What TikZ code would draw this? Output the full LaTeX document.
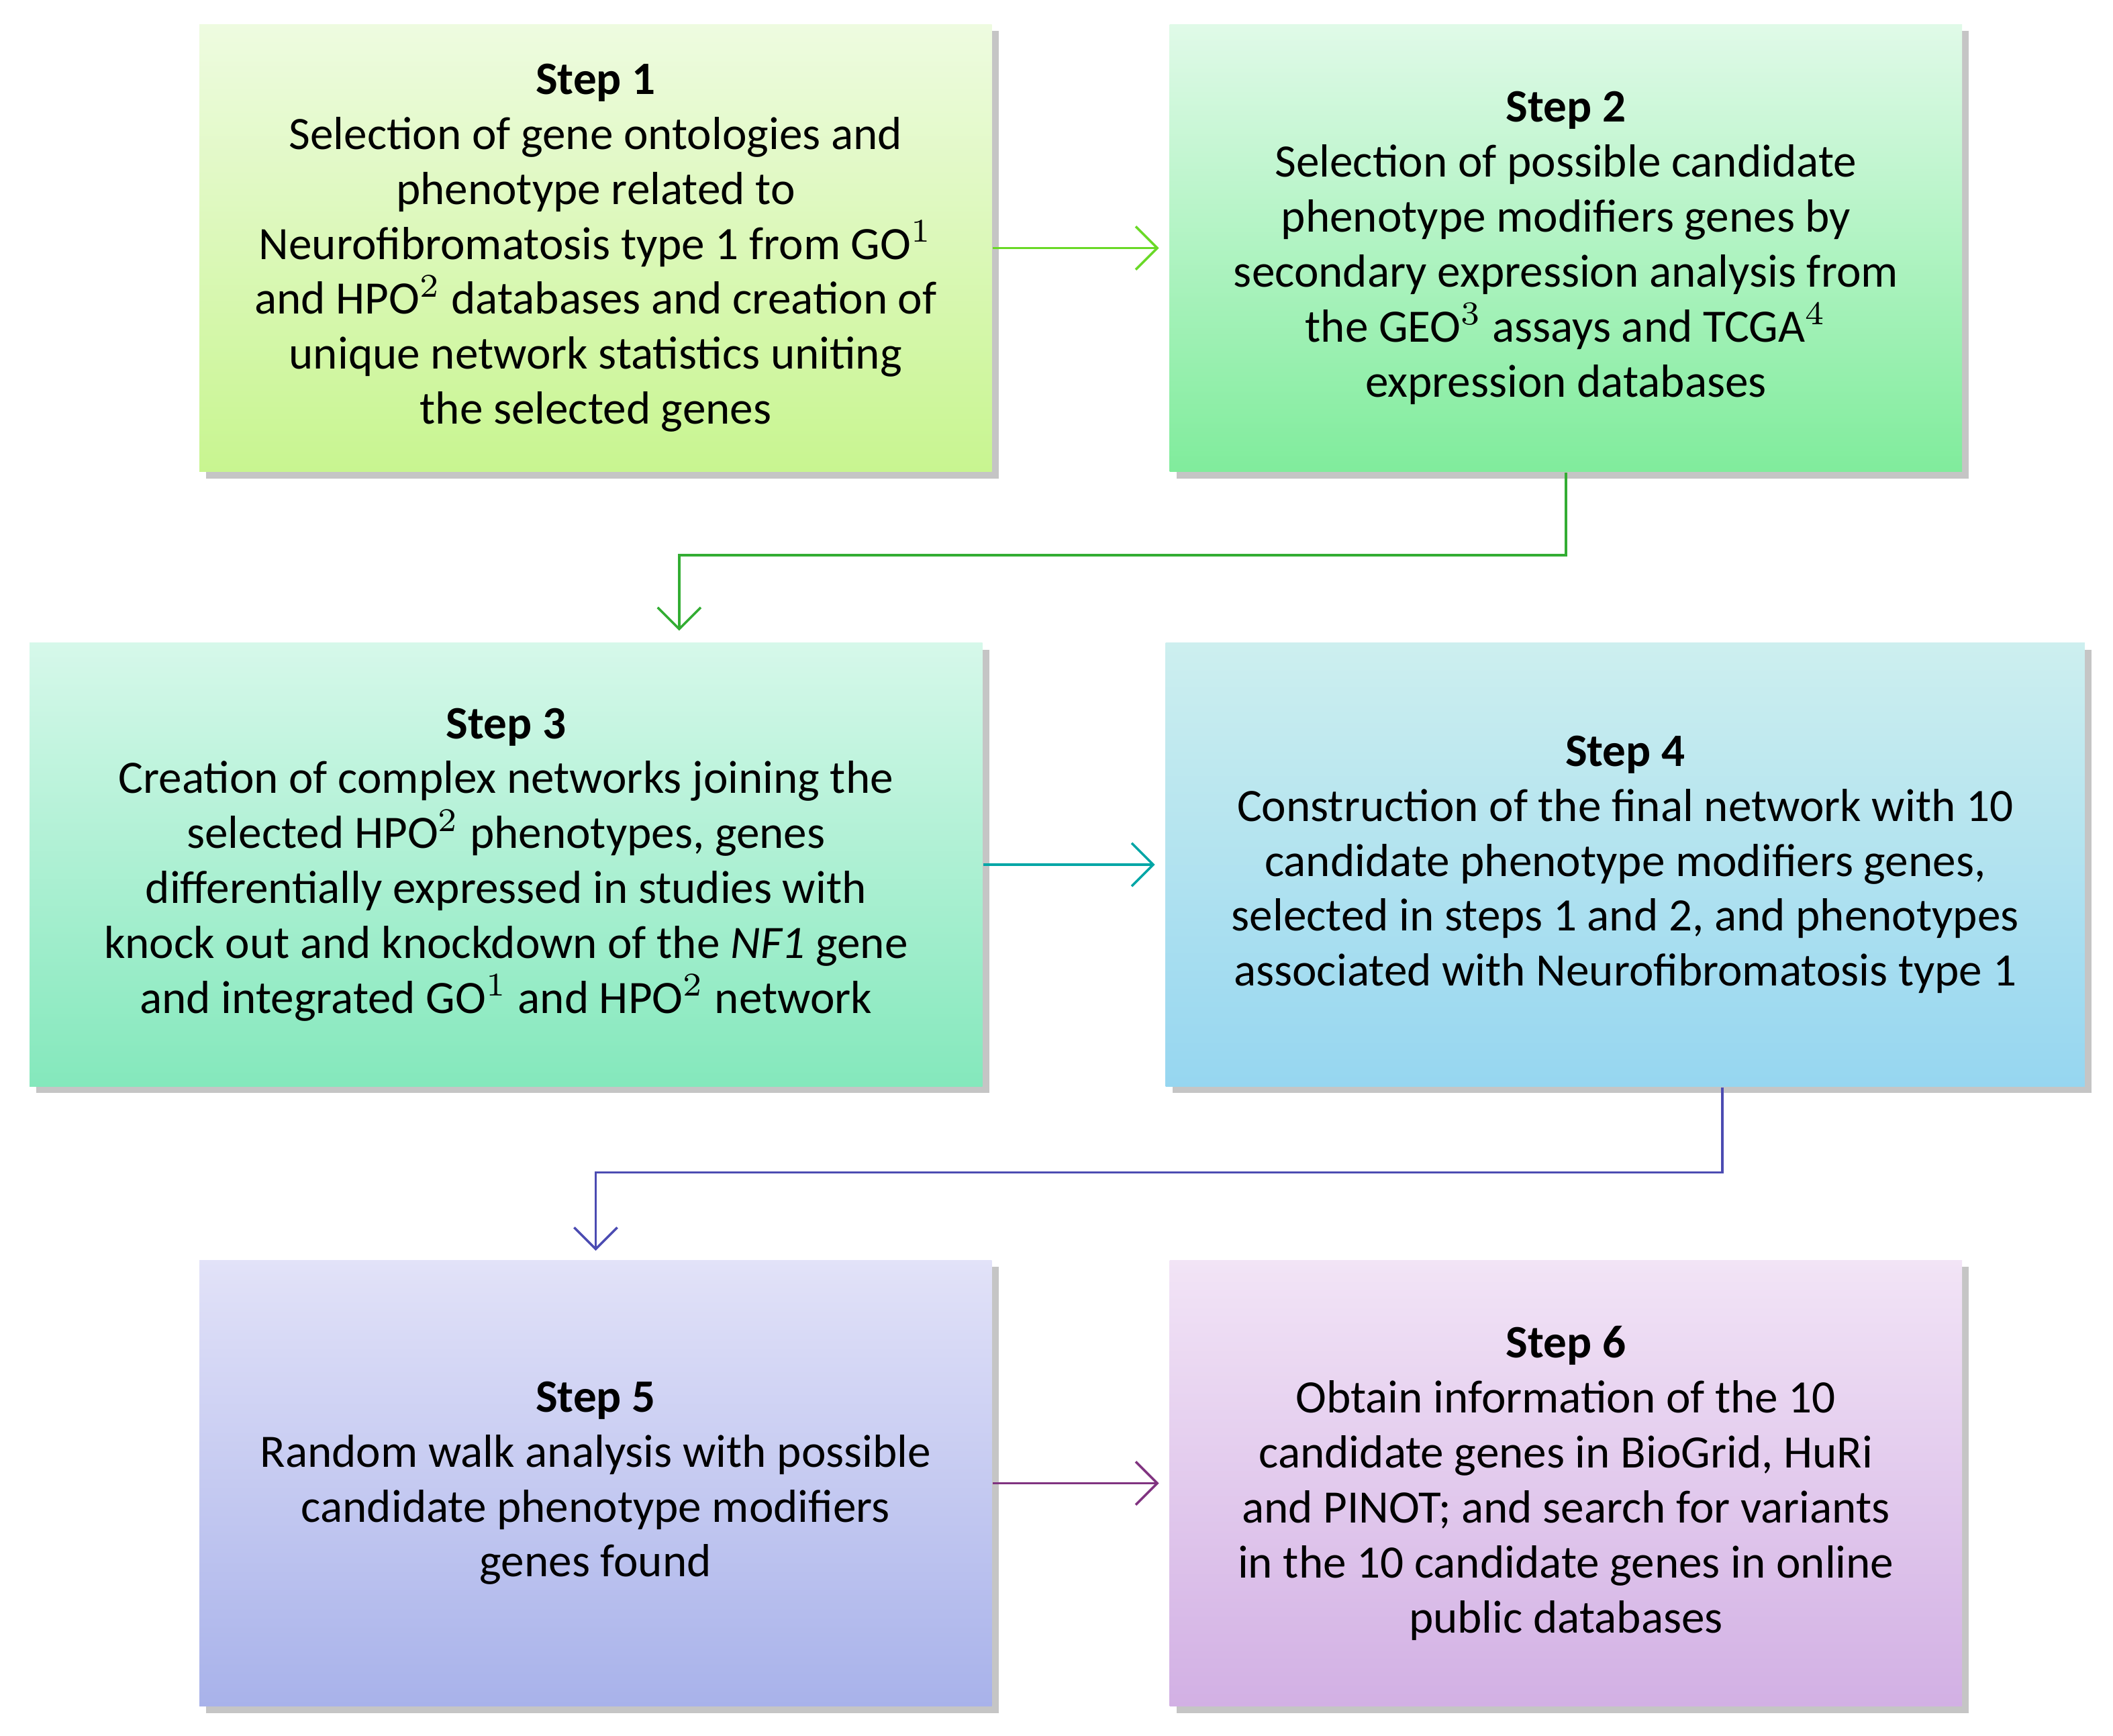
\documentclass[tikz,border=0pt]{standalone}
\usepackage{fontspec}
\setmainfont{Carlito}
\usetikzlibrary{shadows,arrows.meta}
\definecolor{gA}{HTML}{EEFBE0}\definecolor{gB}{HTML}{C8F590}
\definecolor{hA}{HTML}{E0FAE8}\definecolor{hB}{HTML}{80EC9C}
\definecolor{iA}{HTML}{D6F8EA}\definecolor{iB}{HTML}{84E8BC}
\definecolor{jA}{HTML}{CDEFEF}\definecolor{jB}{HTML}{96D6F0}
\definecolor{kA}{HTML}{E2E2F8}\definecolor{kB}{HTML}{A8B2EA}
\definecolor{lA}{HTML}{F2E4F6}\definecolor{lB}{HTML}{D2B0E4}
\tikzset{stepbox/.style={rectangle, inner sep=0pt, align=center, font=\fontsize{9.8}{11.6}\selectfont,
	drop shadow={shadow xshift=0.5mm, shadow yshift=-0.5mm, fill=black!45}},
	flow/.style={-{Straight Barb[length=1.6mm]}, line width=0.5pt}}

\begin{document}
\begin{tikzpicture}[x=1cm,y=1cm]
	\useasboundingbox (0,0) rectangle (15.68,-12.88);
	% Boxes
	\node[stepbox, top color=gA, bottom color=gB, minimum width=5.88cm, minimum height=3.32cm] (s1) at (4.42,-1.84)
		{\textbf{Step 1}\\Selection of gene ontologies and\\phenotype related to\\Neurofibromatosis type 1 from GO$^1$\\and HPO$^2$ databases and creation of\\unique network statistics uniting\\the selected genes};
	\node[stepbox, top color=hA, bottom color=hB, minimum width=5.88cm, minimum height=3.32cm] (s2) at (11.62,-1.84)
		{\textbf{Step 2}\\Selection of possible candidate\\phenotype modifiers genes by\\secondary expression analysis from\\the GEO$^3$ assays and TCGA$^4$\\expression databases};
	\node[stepbox, top color=iA, bottom color=iB, minimum width=7.07cm, minimum height=3.29cm] (s3) at (3.755,-6.415)
		{\textbf{Step 3}\\Creation of complex networks joining the\\selected HPO$^2$ phenotypes, genes\\differentially expressed in studies with\\knock out and knockdown of the \textit{NF1} gene\\and integrated GO$^1$ and HPO$^2$ network};
	\node[stepbox, top color=jA, bottom color=jB, minimum width=6.82cm, minimum height=3.29cm] (s4) at (12.06,-6.415)
		{\textbf{Step 4}\\Construction of the final network with 10\\candidate phenotype modifiers genes,\\selected in steps 1 and 2, and phenotypes\\associated with Neurofibromatosis type 1};
	\node[stepbox, top color=kA, bottom color=kB, minimum width=5.88cm, minimum height=3.31cm] (s5) at (4.42,-11.005)
		{\textbf{Step 5}\\Random walk analysis with possible\\candidate phenotype modifiers\\genes found};
	\node[stepbox, top color=lA, bottom color=lB, minimum width=5.88cm, minimum height=3.31cm] (s6) at (11.62,-11.005)
		{\textbf{Step 6}\\Obtain information of the 10\\candidate genes in BioGrid, HuRi\\and PINOT; and search for variants\\in the 10 candidate genes in online\\public databases};

	% Connectors
	\coordinate (e2) at (8.60,-1.84);
	\coordinate (t3) at (5.04,-4.68);
	\coordinate (e4) at (8.57,-6.415);
	\coordinate (t5) at (4.42,-9.28);
	\coordinate (e6) at (8.60,-11.005);
	\draw[flow, color=green!50!lime!70!gray] (s1.east) -- (e2);
	\draw[flow, color=green!60!black!80] (s2.south) |- (5.04,-4.12) -- (t3);
	\draw[flow, color=teal!70!cyan] (s3.east) -- (e4);
	\draw[flow, color=blue!40!gray] ([xshift=0.72cm]s4.south) |- (4.42,-8.70) -- (t5);
	\draw[flow, color=violet!60!gray] (s5.east) -- (e6);
\end{tikzpicture}
\end{document}
